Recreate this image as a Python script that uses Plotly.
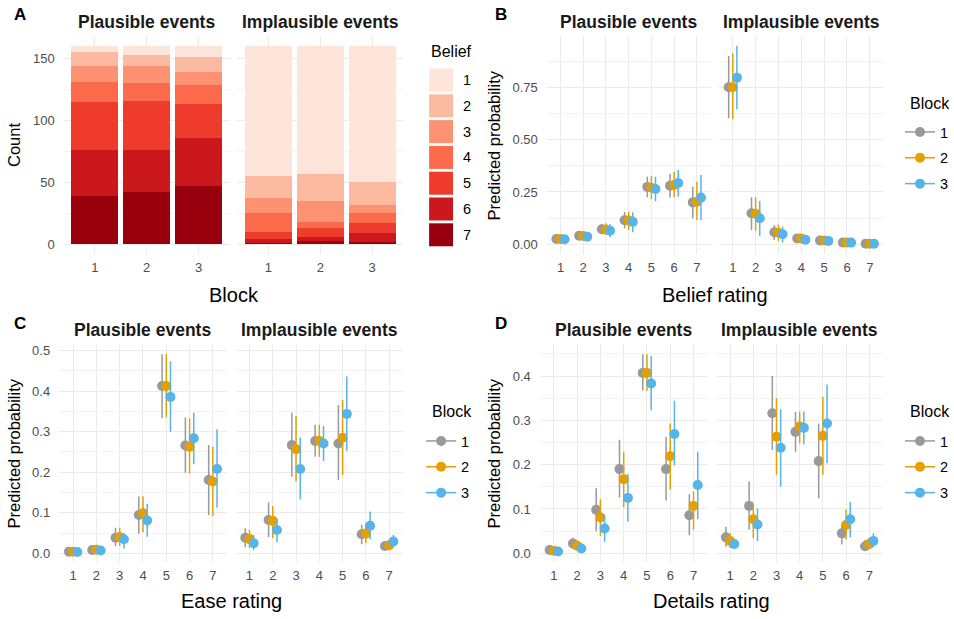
import plotly.graph_objects as go

W, H = 954, 619
FONT = "Liberation Sans, Arial, sans-serif"

# ---------------- DATA ----------------
blocks = [1, 2, 3]
ratings = [1, 2, 3, 4, 5, 6, 7]
belief_levels = [1, 2, 3, 4, 5, 6, 7]
belief_colors = ["#FEE5D9", "#FCBBA1", "#FC9272", "#FB6A4A", "#EF3B2C", "#CB181D", "#99000D"]
block_colors = ["#999999", "#E69F00", "#56B4E9"]

# Panel A: counts per belief level (rows: belief 1..7; columns: block 1..3)
counts_plausible = [
    [5, 7, 9],
    [11, 9, 12],
    [13, 14, 10],
    [16, 14, 16],
    [39, 40, 27],
    [37, 34, 39],
    [39, 42, 47],
]
counts_implausible = [
    [105, 103, 110],
    [18, 22, 18],
    [12, 17, 7],
    [15, 5, 8],
    [6, 7, 8],
    [3, 3, 7],
    [1, 3, 2],
]

# Panel B: belief rating (rows: block 1..3; columns: rating 1..7)
belief_pl_est = [[0.025, 0.041, 0.072, 0.115, 0.274, 0.280, 0.200],
                 [0.025, 0.040, 0.070, 0.113, 0.270, 0.283, 0.203],
                 [0.024, 0.036, 0.065, 0.107, 0.264, 0.293, 0.223]]
belief_pl_lo = [[0.015, 0.028, 0.048, 0.076, 0.225, 0.223, 0.124],
                [0.015, 0.027, 0.045, 0.068, 0.215, 0.223, 0.116],
                [0.013, 0.022, 0.033, 0.057, 0.205, 0.227, 0.116]]
belief_pl_hi = [[0.037, 0.056, 0.097, 0.154, 0.323, 0.337, 0.275],
                [0.037, 0.056, 0.100, 0.154, 0.326, 0.347, 0.299],
                [0.037, 0.053, 0.097, 0.153, 0.323, 0.355, 0.331]]
belief_im_est = [[0.750, 0.148, 0.057, 0.028, 0.018, 0.008, 0.003],
                 [0.750, 0.146, 0.055, 0.028, 0.018, 0.008, 0.003],
                 [0.796, 0.124, 0.048, 0.022, 0.016, 0.008, 0.003]]
belief_im_lo = [[0.602, 0.068, 0.020, 0.010, 0.005, 0.001, 0.000],
                [0.597, 0.064, 0.015, 0.008, 0.004, 0.001, 0.000],
                [0.645, 0.040, 0.008, 0.005, 0.003, 0.001, 0.000]]
belief_im_hi = [[0.900, 0.225, 0.092, 0.046, 0.032, 0.016, 0.008],
                [0.913, 0.225, 0.095, 0.048, 0.033, 0.017, 0.008],
                [0.949, 0.207, 0.085, 0.040, 0.030, 0.016, 0.008]]

# Panel C: ease rating
ease_pl_est = [[0.004, 0.008, 0.0385, 0.0945, 0.413, 0.266, 0.181],
               [0.004, 0.009, 0.040, 0.099, 0.413, 0.263, 0.177],
               [0.003, 0.007, 0.0345, 0.081, 0.386, 0.284, 0.208]]
ease_pl_lo = [[0.001, 0.003, 0.018, 0.049, 0.333, 0.199, 0.0945],
              [0.001, 0.003, 0.018, 0.052, 0.335, 0.197, 0.092],
              [0.000, 0.002, 0.012, 0.041, 0.300, 0.220, 0.1125]]
ease_pl_hi = [[0.009, 0.016, 0.063, 0.140, 0.491, 0.335, 0.267],
              [0.009, 0.017, 0.063, 0.141, 0.492, 0.333, 0.263],
              [0.007, 0.014, 0.050, 0.122, 0.474, 0.347, 0.306]]
ease_im_est = [[0.0385, 0.082, 0.267, 0.277, 0.271, 0.047, 0.018],
               [0.035, 0.080, 0.257, 0.277, 0.285, 0.049, 0.020],
               [0.025, 0.0575, 0.208, 0.271, 0.344, 0.068, 0.029]]
ease_im_lo = [[0.015, 0.040, 0.189, 0.238, 0.181, 0.022, 0.008],
              [0.013, 0.037, 0.177, 0.238, 0.193, 0.025, 0.009],
              [0.008, 0.027, 0.133, 0.228, 0.253, 0.0345, 0.014]]
ease_im_hi = [[0.062, 0.126, 0.347, 0.317, 0.366, 0.070, 0.030],
              [0.058, 0.117, 0.339, 0.317, 0.378, 0.075, 0.033],
              [0.045, 0.085, 0.286, 0.314, 0.436, 0.103, 0.045]]

# Panel D: details rating
details_pl_est = [[0.0075, 0.022, 0.098, 0.190, 0.407, 0.190, 0.086],
                  [0.006, 0.017, 0.081, 0.167, 0.407, 0.219, 0.107],
                  [0.004, 0.011, 0.056, 0.125, 0.383, 0.269, 0.154]]
details_pl_lo = [[0.002, 0.010, 0.049, 0.126, 0.367, 0.119, 0.041],
                 [0.001, 0.007, 0.039, 0.104, 0.366, 0.144, 0.053],
                 [0.001, 0.004, 0.026, 0.071, 0.323, 0.198, 0.077]]
details_pl_hi = [[0.015, 0.035, 0.147, 0.256, 0.449, 0.263, 0.133],
                 [0.013, 0.030, 0.122, 0.228, 0.449, 0.293, 0.140],
                 [0.009, 0.022, 0.085, 0.179, 0.445, 0.344, 0.229]]
details_im_est = [[0.036, 0.107, 0.316, 0.274, 0.208, 0.045, 0.016],
                  [0.028, 0.077, 0.263, 0.286, 0.265, 0.064, 0.021],
                  [0.021, 0.065, 0.238, 0.283, 0.293, 0.077, 0.028]]
details_im_lo = [[0.015, 0.053, 0.233, 0.229, 0.124, 0.020, 0.006],
                 [0.012, 0.034, 0.177, 0.248, 0.177, 0.032, 0.009],
                 [0.010, 0.028, 0.150, 0.246, 0.203, 0.036, 0.014]]
details_im_hi = [[0.060, 0.162, 0.400, 0.319, 0.293, 0.065, 0.030],
                 [0.045, 0.110, 0.350, 0.320, 0.353, 0.099, 0.035],
                 [0.032, 0.101, 0.325, 0.320, 0.381, 0.116, 0.045]]

facet_titles = ["Plausible events", "Implausible events"]

# ---------------- LAYOUT HELPERS ----------------
def fx(px):
    return px / W

def fy(py):
    return 1 - py / H

GRID = "#EBEBEB"
MINOR = "#F3F3F3"
TICKC = "#4D4D4D"

fig = go.Figure()
layout = dict(
    width=W, height=H, margin=dict(l=0, r=0, t=0, b=0),
    paper_bgcolor="white", plot_bgcolor="white",
    font=dict(family=FONT, color="black"),
    barmode="stack", showlegend=True,
)
annotations = []
shapes = []

def add_axes(idx, xdom_px, ydom_px, xrange, xticks, yrange, ytickvals, yticktext, yminor, show_y):
    xa = dict(domain=[fx(xdom_px[0]), fx(xdom_px[1])], range=xrange, tickvals=xticks,
              ticktext=[str(t) for t in xticks], showgrid=True, gridcolor=GRID, gridwidth=1,
              zeroline=False, showline=False, ticks="", tickfont=dict(size=13, color=TICKC),
              anchor="y" + ("" if idx == 1 else str(idx)), fixedrange=True, ticklabelstandoff=4)
    ya = dict(domain=[fy(ydom_px[1]), fy(ydom_px[0])], range=yrange, tickvals=ytickvals,
              ticktext=yticktext, showticklabels=show_y, showgrid=True, gridcolor=GRID, gridwidth=1,
              zeroline=False, showline=False, ticks="", tickfont=dict(size=13, color=TICKC),
              minor=dict(tickvals=yminor, showgrid=True, gridcolor=MINOR, gridwidth=1, ticks=""),
              anchor="x" + ("" if idx == 1 else str(idx)), fixedrange=True, ticklabelstandoff=8)
    sfx = "" if idx == 1 else str(idx)
    layout["xaxis" + sfx] = xa
    layout["yaxis" + sfx] = ya

# ----- Panel A -----
A_y = (36.3, 254.2)
A_x = [(63.8, 230.2), (237.8, 404.2)]
a_yt = [0, 50, 100, 150]
for k in range(2):
    add_axes(1 + k, A_x[k], A_y, [0.4, 3.6], blocks, [-8, 168], a_yt, [str(v) for v in a_yt],
             [25, 75, 125], k == 0)

for k, counts in enumerate([counts_plausible, counts_implausible]):
    sfx = "" if k == 0 else "2"
    for lev in reversed(range(len(belief_levels))):
        fig.add_trace(go.Bar(x=blocks, y=counts[lev], width=0.9,
                             marker=dict(color=belief_colors[lev], line=dict(width=0)),
                             name=str(belief_levels[lev]), showlegend=False,
                             xaxis="x" + sfx, yaxis="y" + sfx, hoverinfo="skip"))

# ----- Panels B, C, D -----
panels = [
    dict(idx=3, xs=[(548, 712), (720.6, 885.4)], ys=(35.8, 254.1), yr=[-0.047, 0.996],
         yt=[0, 0.25, 0.5, 0.75], fmt="{:.2f}", ym=[0.125, 0.375, 0.625, 0.875],
         data=[(belief_pl_est, belief_pl_lo, belief_pl_hi), (belief_im_est, belief_im_lo, belief_im_hi)],
         legend="legend", leg_x=902, leg_title=(910, 103), leg_top=116),
    dict(idx=5, xs=[(59.3, 227.3), (236, 404)], ys=(344.0, 562.2), yr=[-0.022, 0.5165],
         yt=[0, 0.1, 0.2, 0.3, 0.4, 0.5], fmt="{:.1f}", ym=[0.05, 0.15, 0.25, 0.35, 0.45],
         data=[(ease_pl_est, ease_pl_lo, ease_pl_hi), (ease_im_est, ease_im_lo, ease_im_hi)],
         legend="legend2", leg_x=422, leg_title=(430.5, 411.7), leg_top=425),
    dict(idx=7, xs=[(541, 709), (717.7, 885)], ys=(344.3, 562.4), yr=[-0.0205, 0.4715],
         yt=[0, 0.1, 0.2, 0.3, 0.4], fmt="{:.1f}", ym=[0.05, 0.15, 0.25, 0.35, 0.45],
         data=[(details_pl_est, details_pl_lo, details_pl_hi), (details_im_est, details_im_lo, details_im_hi)],
         legend="legend3", leg_x=902, leg_title=(910, 411.7), leg_top=425),
]
dodge = [-0.18, 0.0, 0.18]

for p in panels:
    for k in range(2):
        idx = p["idx"] + k
        add_axes(idx, p["xs"][k], p["ys"], [0.4, 7.6], ratings, p["yr"], p["yt"],
                 [p["fmt"].format(v) for v in p["yt"]], p["ym"], k == 0)
        est_all, lo_all, hi_all = p["data"][k]
        for b in range(3):
            est, lo, hi = est_all[b], lo_all[b], hi_all[b]
            fig.add_trace(go.Scatter(
                x=[r + dodge[b] for r in ratings], y=est, mode="markers",
                marker=dict(size=10, color=block_colors[b], line=dict(width=0)),
                error_y=dict(type="data", symmetric=False,
                             array=[h - e for h, e in zip(hi, est)],
                             arrayminus=[e - l for e, l in zip(est, lo)],
                             color=block_colors[b], thickness=1.5, width=0),
                showlegend=False, xaxis="x" + str(idx), yaxis="y" + str(idx), hoverinfo="skip"))
    # legend entries
    for b in range(3):
        fig.add_trace(go.Scatter(
            x=[None], y=[None], mode="lines+markers", name=str(blocks[b]),
            marker=dict(size=10, color=block_colors[b]), line=dict(color=block_colors[b], width=1.5),
            legend=p["legend"], legendgroup=p["legend"] + str(b), showlegend=True,
            xaxis="x" + str(p["idx"]), yaxis="y" + str(p["idx"])))
    layout[p["legend"]] = dict(x=fx(p["leg_x"]), y=fy(p["leg_top"]), xanchor="left", yanchor="top",
                               bgcolor="rgba(0,0,0,0)", borderwidth=0,
                               font=dict(size=14.5, color="black"), tracegroupgap=4, itemwidth=30)
    annotations.append(dict(text="Block", x=fx(p["leg_title"][0]), y=fy(p["leg_title"][1]),
                            xref="paper", yref="paper", xanchor="left", yanchor="middle",
                            showarrow=False, font=dict(size=16, color="black")))

# ----- Manual legend for panel A -----
annotations.append(dict(text="Belief", x=fx(430), y=fy(51), xref="paper", yref="paper",
                        xanchor="left", yanchor="middle", showarrow=False,
                        font=dict(size=16, color="black")))
for i, lev in enumerate(belief_levels):
    cy = 80 + i * 25.8
    shapes.append(dict(type="rect", xref="paper", yref="paper",
                       x0=fx(430), x1=fx(454), y0=fy(cy - 11.5), y1=fy(cy + 11.5),
                       fillcolor=belief_colors[i], line=dict(width=0)))
    annotations.append(dict(text=str(lev), x=fx(462), y=fy(cy), xref="paper", yref="paper",
                            xanchor="left", yanchor="middle", showarrow=False,
                            font=dict(size=14.5, color="black")))

# ----- Strip titles -----
all_x = [A_x] + [p["xs"] for p in panels]
strip_y = [22, 22, 330, 330]
for xs, sy in zip(all_x, strip_y):
    for k in range(2):
        annotations.append(dict(text="<b>" + facet_titles[k] + "</b>", x=fx((xs[k][0] + xs[k][1]) / 2),
                                y=fy(sy), xref="paper", yref="paper", xanchor="center", yanchor="middle",
                                showarrow=False, font=dict(size=17.5, color="#1A1A1A")))

# ----- Panel letters -----
for letter, lx, ly in [("A", 20, 15), ("B", 502, 15), ("C", 20, 323), ("D", 502, 323)]:
    annotations.append(dict(text="<b>" + letter + "</b>", x=fx(lx), y=fy(ly), xref="paper", yref="paper",
                            xanchor="center", yanchor="middle", showarrow=False,
                            font=dict(size=17, color="black")))

# ----- Axis titles -----
x_titles = [("Block", A_x), ("Belief rating", panels[0]["xs"]), ("Ease rating", panels[1]["xs"]),
            ("Details rating", panels[2]["xs"])]
x_title_y = [295, 295, 601, 601]
for (t, xs), ty in zip(x_titles, x_title_y):
    annotations.append(dict(text=t, x=fx((xs[0][0] + xs[1][1]) / 2), y=fy(ty), xref="paper", yref="paper",
                            xanchor="center", yanchor="middle", showarrow=False,
                            font=dict(size=20, color="black")))
y_titles = [("Count", 14, 145), ("Predicted probability", 495.5, 145),
            ("Predicted probability", 14.5, 453), ("Predicted probability", 495.5, 453)]
for t, tx, ty in y_titles:
    annotations.append(dict(text=t, x=fx(tx), y=fy(ty), xref="paper", yref="paper", textangle=-90,
                            xanchor="center", yanchor="middle", showarrow=False,
                            font=dict(size=16.5, color="black")))

layout["annotations"] = annotations
layout["shapes"] = shapes
fig.update_layout(**layout)
fig.write_html("out.html", config={"displayModeBar": False},
               post_script="document.body.style.margin='0px';")
